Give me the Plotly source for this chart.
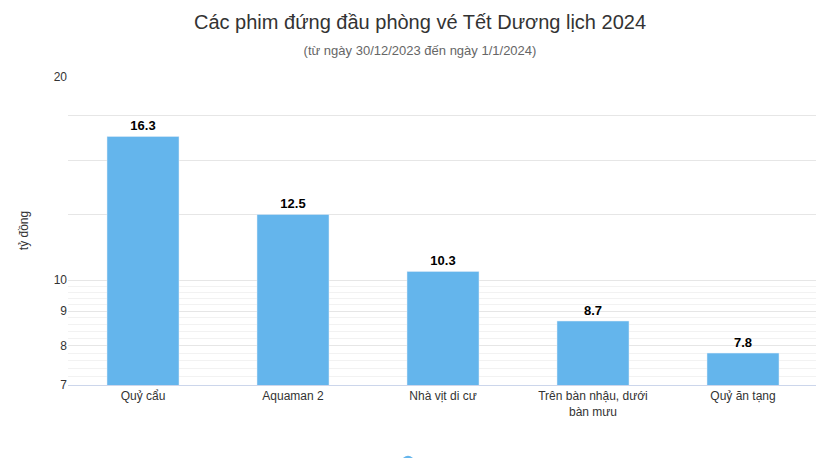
import plotly.graph_objects as go

films = ["Quỷ cẩu", "Aquaman 2", "Nhà vịt di cư", "Trên bàn nhậu, dưới<br>bàn mưu", "Quỷ ăn tạng"]
revenue = [16.3, 12.5, 10.3, 8.7, 7.8]
tick_vals = [7, 8, 9, 10, 12.5, 15, 17.5, 20]
tick_text = ["7", "8", "9", "10", "", "", "", "20"]
minor_vals = [7.2, 7.4, 7.6, 7.8, 8.2, 8.4, 8.6, 8.8, 9.2, 9.4, 9.6, 9.8]

fig = go.Figure()
fig.add_trace(go.Bar(
    x=films, y=revenue, name="Doanh thu", marker_color="#64b5ec",
    text=["<b>%s</b>" % v for v in revenue], textposition="outside",
    textfont=dict(size=13, color="#000"),
    width=0.48, cliponaxis=False, showlegend=False,
))
fig.add_trace(go.Scatter(x=[films[0]], y=[None], mode="markers", name="<b>Doanh thu</b>",
                         marker=dict(color="#64b5ec", size=15), showlegend=True))

fig.update_layout(
    width=824, height=458, plot_bgcolor="white", paper_bgcolor="white",
    margin=dict(l=60, r=14, t=68, b=81, autoexpand=False),
    font=dict(family="Arial", color="#333"),
    title=dict(text="Các phim đứng đầu phòng vé Tết Dương lịch 2024<br>"
                    "<span style='font-size:13px;color:#666'>(từ ngày 30/12/2023 đến ngày 1/1/2024)</span>",
               x=0.5, y=0.955, yanchor="top", font=dict(size=20, color="#333"), automargin=False),
    showlegend=True,
    legend=dict(orientation="h", x=0.5, xanchor="center", y=-0.2, yanchor="top",
                font=dict(size=13, color="#333"), itemsizing="constant"),
)
fig.update_xaxes(showline=True, linecolor="#ccd6eb", tickfont=dict(size=12, color="#333"), ticks="",
                 automargin=False)
fig.update_yaxes(type="log", range=[0.845, 1.3015], tickvals=tick_vals, ticktext=tick_text,
                 gridcolor="#e6e6e6", tickfont=dict(size=12, color="#333"), automargin=False,
                 title=dict(text="tỷ đồng", font=dict(size=12, color="#333"), standoff=22),
                 minor=dict(tickvals=minor_vals, showgrid=True, gridcolor="#f2f2f2"), zeroline=False)
fig.write_html("out.html")
